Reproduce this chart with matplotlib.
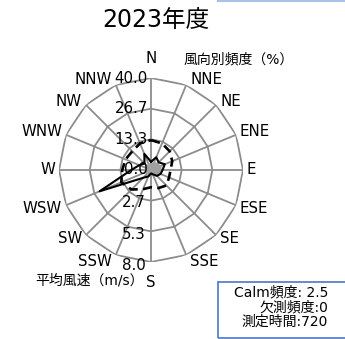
import numpy as np
import matplotlib
matplotlib.use("Agg")
import matplotlib.pyplot as plt
from matplotlib.patches import Rectangle

plt.rcParams['font.family'] = ['DejaVu Sans', 'Noto Sans CJK JP']

# ---- data ----
directions = ["N", "NNE", "NE", "ENE", "E", "ESE", "SE", "SSE",
              "S", "SSW", "SW", "WSW", "W", "WNW", "NW", "NNW"]
freq = [3.6, 6.0, 4.7, 6.5, 5.0, 4.5, 3.6, 2.0,
        1.5, 3.0, 4.8, 24.2, 8.6, 5.5, 4.0, 7.6]           # 風向別頻度 (%)
freq_fill = [3.0, 4.0, 4.0, 5.0, 4.5, 4.0, 3.5, 2.5,
             2.0, 2.0, 2.5, 3.0, 3.0, 2.5, 2.5, 3.0]       # shaded series (%)
speed = [2.6, 2.5, 2.3, 2.0, 1.7, 1.7, 1.9, 1.7,
         1.5, 1.8, 2.4, 2.8, 2.5, 2.4, 2.3, 2.5]           # 平均風速 (m/s)
freq_ticks = ["0.0", "13.3", "26.7", "40.0"]
speed_ticks = ["2.7", "5.3", "8.0"]
freq_max = 40.0
speed_max = 8.0
title = "2023年度"
freq_label = "風向別頻度（%）"
speed_label = "平均風速（m/s）"
info_lines = ["Calm頻度: 2.5", "欠測頻度:0", "測定時間:720"]

W, H = 345, 339
fig = plt.figure(figsize=(W / 100, H / 100), dpi=100)

cx, cy, R = 151, 170, 92
ax = fig.add_axes([(cx - R) / W, (H - cy - R) / H, 2 * R / W, 2 * R / H],
                  projection='polar')
ax.set_theta_zero_location('N')
ax.set_theta_direction(-1)
ax.set_ylim(0, freq_max)
ax.axis('off')

n = len(directions)
theta = np.arange(n) * 2 * np.pi / n
theta_c = np.append(theta, theta[0])

grid_col = '#8c8c8c'
# polygon rings
levels = [freq_max * k / 3 for k in range(1, 4)]
for lv in levels:
    ax.plot(theta_c, [lv] * (n + 1), color=grid_col, lw=1.3, zorder=1)
# spokes
for t in theta:
    ax.plot([t, t], [0, freq_max], color=grid_col, lw=1.3, zorder=1)

def closed(v):
    return np.append(v, v[0])

# shaded series
ax.fill(theta_c, closed(freq_fill), color='#a0a0a0', lw=0, zorder=2)
# frequency (solid)
ax.plot(theta_c, closed(freq), color='black', lw=1.5, zorder=3)
# mean speed (dashed) on secondary scale
sp = np.array(speed) * freq_max / speed_max
ax.plot(theta_c, closed(sp), color='black', lw=1.9, ls=(0, (3.5, 2)), zorder=3)

fs = 10.8
# direction labels
dy_off = [20, 6, 3, 3, 0, -3, -3, -7, -21, -7, -3, -3, 0, 3, 3, 6]
for i, (t, lab) in enumerate(zip(theta, directions)):
    s = np.sin(t)
    if abs(s) < 0.1:
        ha, dx = 'center', 0
    elif s > 0:
        ha, dx = 'left', 4
    else:
        ha, dx = 'right', -4
    ax.annotate(lab, xy=(t, freq_max), xytext=(dx, dy_off[i]),
                textcoords='offset pixels', ha=ha, va='center',
                fontsize=fs, zorder=5)

# frequency axis labels (north side)
for k, lab in enumerate(freq_ticks):
    r = freq_max * k / 3
    ax.annotate(lab, xy=(0, r), xytext=(-3, 0), textcoords='offset pixels',
                ha='right', va='center', fontsize=fs, zorder=5)
# speed axis labels (south side)
for k, lab in enumerate(speed_ticks):
    r = freq_max * (k + 1) / 3
    ax.annotate(lab, xy=(np.pi, r), xytext=(-5, -2 - k), textcoords='offset pixels',
                ha='right', va='center', fontsize=fs, zorder=5)

fig.text(156 / W, 1 - 20 / H, title, ha='center', va='center', fontsize=17)
fig.text(184 / W, 1 - 59 / H, freq_label, ha='left', va='center', fontsize=10)
fig.text(144 / W, 1 - 280 / H, speed_label, ha='right', va='center', fontsize=10)

# info box
fig.patches.append(Rectangle((218 / W, 1 - 338 / H), 130 / W, 56 / H,
                             transform=fig.transFigure, fill=False,
                             edgecolor='#4a78c2', lw=1.2))
fig.add_artist(plt.Line2D([218 / W, 1], [1 - 0.8 / H, 1 - 0.8 / H],
                          transform=fig.transFigure, color='#a9c3e8', lw=1.5))
for j, line in enumerate(info_lines):
    fig.text(328 / W, 1 - (292 + 15 * j) / H, line, ha='right', va='center',
             fontsize=10)

fig.savefig("out.png", dpi=100)
